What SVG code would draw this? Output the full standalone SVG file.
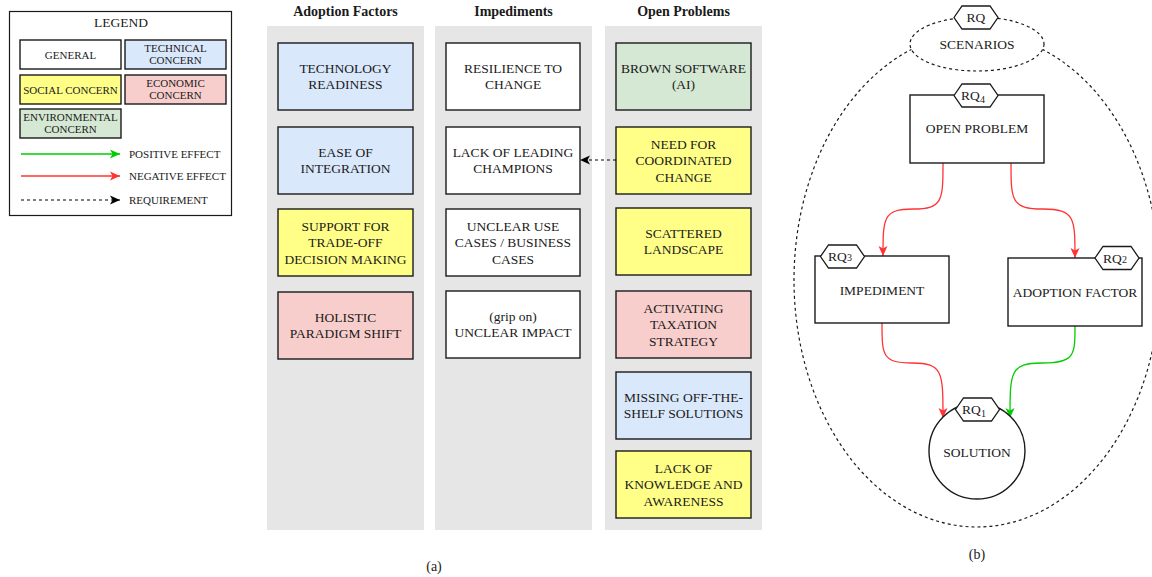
<svg xmlns="http://www.w3.org/2000/svg" width="1152" height="577" viewBox="0 0 1152 577" font-family="'Liberation Serif', 'Times New Roman', serif">
<style>
text{font-family:"Liberation Serif","Times New Roman",serif;fill:#1a1a1a;text-anchor:middle}
.t{font-size:13.5px}
.lg{font-size:11px}
.hd{font-size:14px;font-weight:bold}
.box{stroke:#1a1a1a;stroke-width:1.4}
.w{fill:#ffffff}.b{fill:#dae8fc}.y{fill:#ffff88}.p{fill:#f8cecc}.g{fill:#d5e8d4}
.col{fill:#e6e6e6}
.hex{fill:#fff;stroke:#1a1a1a;stroke-width:1.3}
.red{fill:none;stroke:#ff3333;stroke-width:1.3}
.grn{fill:none;stroke:#00cc00;stroke-width:1.3}
.req{fill:none;stroke:#000;stroke-width:1.2;stroke-dasharray:3,3}
.dash{fill:none;stroke:#1a1a1a;stroke-width:1.2;stroke-dasharray:3,3}
</style>
<defs>
<marker id="aR" markerUnits="userSpaceOnUse" markerWidth="11" markerHeight="10" refX="10" refY="5" orient="auto"><path d="M0,0.5 L10,5 L0,9.5 L2.5,5 z" fill="#ff3333"/></marker>
<marker id="aG" markerUnits="userSpaceOnUse" markerWidth="11" markerHeight="10" refX="10" refY="5" orient="auto"><path d="M0,0.5 L10,5 L0,9.5 L2.5,5 z" fill="#00cc00"/></marker>
<marker id="aK" markerUnits="userSpaceOnUse" markerWidth="11" markerHeight="10" refX="10" refY="5" orient="auto"><path d="M0,0.5 L10,5 L0,9.5 L2.5,5 z" fill="#000"/></marker>
</defs>

<g id="legend">
<rect x="9.5" y="11.5" width="222" height="204" fill="#fff" stroke="#1a1a1a" stroke-width="1.2"/>
<text class="t" x="121" y="27">LEGEND</text>
<rect class="box w" x="20" y="40" width="101" height="29"/>
<text class="lg" x="70.5" y="58.5">GENERAL</text>
<rect class="box b" x="125" y="40" width="101" height="29"/>
<text class="lg" x="175.5" y="52">TECHNICAL<tspan x="175.5" dy="12">CONCERN</tspan></text>
<rect class="box y" x="20" y="75" width="101" height="29"/>
<text class="lg" x="70.5" y="93.5">SOCIAL CONCERN</text>
<rect class="box p" x="125" y="75" width="101" height="29"/>
<text class="lg" x="175.5" y="87">ECONOMIC<tspan x="175.5" dy="12">CONCERN</tspan></text>
<rect class="box g" x="20" y="109" width="101" height="29"/>
<text class="lg" x="70.5" y="121">ENVIRONMENTAL<tspan x="70.5" dy="12">CONCERN</tspan></text>
<path class="grn" d="M21,154 H120" marker-end="url(#aG)"/>
<text class="lg" x="129" y="158" style="text-anchor:start">POSITIVE EFFECT</text>
<path class="red" d="M21,176 H120" marker-end="url(#aR)"/>
<text class="lg" x="129" y="180" style="text-anchor:start">NEGATIVE EFFECT</text>
<path class="req" d="M21,200 H120" marker-end="url(#aK)"/>
<text class="lg" x="129" y="204" style="text-anchor:start">REQUIREMENT</text>
</g>

<g id="columns">
<rect class="col" x="267" y="26" width="157" height="504"/>
<rect class="col" x="435" y="26" width="157" height="504"/>
<rect class="col" x="605" y="26" width="157" height="504"/>
<text class="hd" x="345.5" y="16">Adoption Factors</text>
<text class="hd" x="513.5" y="16">Impediments</text>
<text class="hd" x="683.5" y="16">Open Problems</text>
</g>

<g id="af1"><rect class="box b" x="278" y="43" width="135" height="67"/><text class="t" x="345.5" y="72.8">TECHNOLOGY<tspan x="345.5" dy="16.5">READINESS</tspan></text></g>
<g id="af2"><rect class="box b" x="278" y="127" width="135" height="67"/><text class="t" x="345.5" y="156.8">EASE OF<tspan x="345.5" dy="16.5">INTEGRATION</tspan></text></g>
<g id="af3"><rect class="box y" x="278" y="209" width="135" height="67"/><text class="t" x="345.5" y="230.5">SUPPORT FOR<tspan x="345.5" dy="16.5">TRADE-OFF</tspan><tspan x="345.5" dy="16.5">DECISION MAKING</tspan></text></g>
<g id="af4"><rect class="box p" x="278" y="292" width="135" height="67"/><text class="t" x="345.5" y="321.8">HOLISTIC<tspan x="345.5" dy="16.5">PARADIGM SHIFT</tspan></text></g>

<g id="im1"><rect class="box w" x="446" y="43" width="134" height="67"/><text class="t" x="513" y="72.8">RESILIENCE TO<tspan x="513" dy="16.5">CHANGE</tspan></text></g>
<g id="im2"><rect class="box w" x="446" y="127" width="134" height="67"/><text class="t" x="513" y="156.8">LACK OF LEADING<tspan x="513" dy="16.5">CHAMPIONS</tspan></text></g>
<g id="im3"><rect class="box w" x="446" y="209" width="134" height="67"/><text class="t" x="513" y="230.5">UNCLEAR USE<tspan x="513" dy="16.5">CASES / BUSINESS</tspan><tspan x="513" dy="16.5">CASES</tspan></text></g>
<g id="im4"><rect class="box w" x="446" y="291" width="134" height="67"/><text class="t" x="513" y="320.8">(grip on)<tspan x="513" dy="16.5">UNCLEAR IMPACT</tspan></text></g>

<g id="op1"><rect class="box g" x="616" y="43" width="135" height="67"/><text class="t" x="683.5" y="72.8">BROWN SOFTWARE<tspan x="683.5" dy="16.5">(AI)</tspan></text></g>
<g id="op2"><rect class="box y" x="616" y="127" width="135" height="67"/><text class="t" x="683.5" y="148.5">NEED FOR<tspan x="683.5" dy="16.5">COORDINATED</tspan><tspan x="683.5" dy="16.5">CHANGE</tspan></text></g>
<g id="op3"><rect class="box y" x="616" y="208" width="135" height="67"/><text class="t" x="683.5" y="237.8">SCATTERED<tspan x="683.5" dy="16.5">LANDSCAPE</tspan></text></g>
<g id="op4"><rect class="box p" x="616" y="291" width="135" height="67"/><text class="t" x="683.5" y="312.5">ACTIVATING<tspan x="683.5" dy="16.5">TAXATION</tspan><tspan x="683.5" dy="16.5">STRATEGY</tspan></text></g>
<g id="op5"><rect class="box b" x="616" y="372" width="135" height="67"/><text class="t" x="683.5" y="401.8">MISSING OFF-THE-<tspan x="683.5" dy="16.5">SHELF SOLUTIONS</tspan></text></g>
<g id="op6"><rect class="box y" x="616" y="451" width="135" height="67"/><text class="t" x="683.5" y="472.5">LACK OF<tspan x="683.5" dy="16.5">KNOWLEDGE AND</tspan><tspan x="683.5" dy="16.5">AWARENESS</tspan></text></g>

<text class="t" x="434" y="571" style="font-size:14px">(a)</text>

<g id="scope"><ellipse class="dash" cx="977" cy="280" rx="183" ry="247"/></g>
<g id="scenarios">
<ellipse cx="977" cy="44" rx="67" ry="27" fill="#fff" stroke="#1a1a1a" stroke-width="1.2" stroke-dasharray="3,3"/>
<text class="t" x="977" y="48.5">SCENARIOS</text>
<polygon class="hex" points="954,17.5 962,6 990,6 998,17.5 990,29 962,29"/>
<text class="t" x="976" y="22">RQ</text>
</g>

<g id="connectors">
<path class="req" d="M616,160 H580" marker-end="url(#aK)"/>
<path class="red" d="M943,163 C943,200 943,209 913,209 C883,209 883,218 883,256" marker-end="url(#aR)"/>
<path class="red" d="M1011,163 C1011,200 1011,209 1043,209 C1075,209 1075,218 1075,258" marker-end="url(#aR)"/>
<path class="red" d="M882,323 C882,355 882,363 912,363 C943,363 943,372 943,418" marker-end="url(#aR)"/>
<path class="grn" d="M1075,326 C1075,355 1075,363 1042,363 C1010,363 1010,372 1010,418" marker-end="url(#aG)"/>
</g>

<g id="openproblem">
<rect class="box w" x="910" y="95" width="134" height="68"/>
<text class="t" x="977" y="133">OPEN PROBLEM</text>
<polygon class="hex" points="954,95.5 962,84 990,84 998,95.5 990,107 962,107"/>
<text class="t" x="973" y="100">RQ<tspan style="font-size:10px" dy="3">4</tspan></text>
</g>
<g id="impediment">
<rect class="box w" x="815" y="256" width="134" height="67"/>
<text class="t" x="882" y="294.5">IMPEDIMENT</text>
<polygon class="hex" points="820.5,256.5 828.5,245 856.5,245 864.5,256.5 856.5,268 828.5,268"/>
<text class="t" x="840" y="261">RQ<tspan style="font-size:10px">3</tspan></text>
</g>
<g id="adoption">
<rect class="box w" x="1008" y="258" width="134" height="68"/>
<text class="t" x="1075" y="296.5">ADOPTION FACTOR</text>
<polygon class="hex" points="1095,258 1103,246.5 1131,246.5 1139,258 1131,269.5 1103,269.5"/>
<text class="t" x="1115" y="262.5">RQ<tspan style="font-size:10px">2</tspan></text>
</g>
<g id="solution">
<circle cx="977" cy="451" r="48" fill="#fff" stroke="#1a1a1a" stroke-width="1.4"/>
<text class="t" x="977" y="457">SOLUTION</text>
<polygon class="hex" points="955.5,409.5 963.5,398 991.5,398 999.5,409.5 991.5,421 963.5,421"/>
<text class="t" x="974" y="414">RQ<tspan style="font-size:10px" dy="3">1</tspan></text>
</g>
<text class="t" x="977" y="559" style="font-size:14px">(b)</text>
</svg>
